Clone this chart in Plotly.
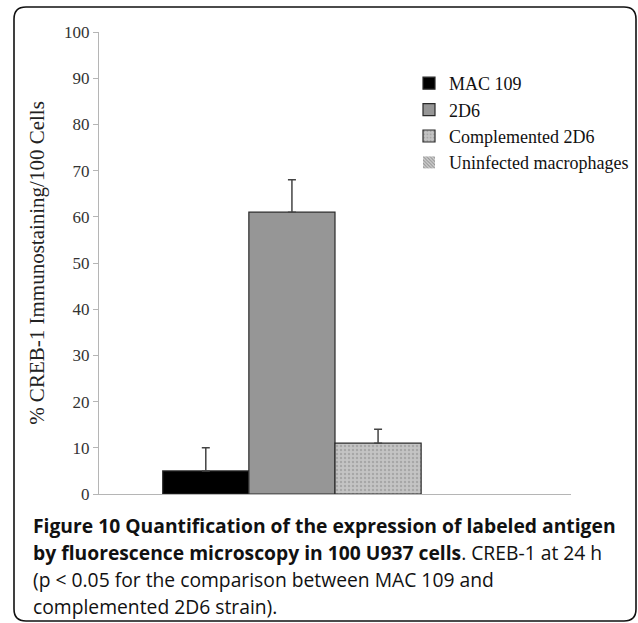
import plotly.graph_objects as go

# ---- data ----
series = ["MAC 109", "2D6", "Complemented 2D6", "Uninfected macrophages"]
values = [5, 61, 11, 0]
err_plus = [5, 7, 3, 0]
colors = ["#000000", "#969696", "#c4c4c4", "#d4d4d4"]
patterns = ["", "", ".", "\\"]
category = [""]
y_ticks = [0, 10, 20, 30, 40, 50, 60, 70, 80, 90, 100]

caption_lines = [
    "<b>Figure 10 Quantification of the expression of labeled antigen</b>",
    "<b>by fluorescence microscopy in 100 U937 cells</b>. CREB-1 at 24 h",
    "(p &lt; 0.05 for the comparison between MAC 109 and",
    "complemented 2D6 strain).",
]

# ---- layout geometry (pixels) ----
W, H = 638, 623
L, R, T, B = 99, 67, 32, 129
PW, PH = W - L - R, H - T - B


def px(x):
    return (x - L) / PW


def py(y):
    return (H - B - y) / PH


fig = go.Figure()
for name, v, e, c, p in zip(series, values, err_plus, colors, patterns):
    pat = dict(shape=p, fgcolor="#8a8a8a", size=4, solidity=0.3) if p == "." else \
        (dict(shape=p, fgcolor="#555555", size=3, solidity=0.45) if p else None)
    fig.add_trace(go.Bar(
        x=category, y=[v], name=name,
        marker=dict(color=c, line=dict(color="#2a2a2a", width=1.2 if v > 0 else 0),
                    pattern=pat),
        error_y=dict(type="data", array=[e], arrayminus=[0], symmetric=False,
                     color="#444444", thickness=1.5, width=4, visible=(e > 0)),
    ))

# rounded frame
x0, x1 = px(14), px(636)
y0, y1 = py(7), py(621)
rx, ry = 12 / PW, 12 / PH
path = (f"M {x0+rx},{y0} L {x1-rx},{y0} Q {x1},{y0} {x1},{y0-ry} "
        f"L {x1},{y1+ry} Q {x1},{y1} {x1-rx},{y1} L {x0+rx},{y1} "
        f"Q {x0},{y1} {x0},{y1+ry} L {x0},{y0-ry} Q {x0},{y0} {x0+rx},{y0} Z")

annotations = []
for i, line in enumerate(caption_lines):
    annotations.append(dict(
        text=line, xref="paper", yref="paper", x=px(31), y=py(525 + 27 * i),
        xanchor="left", yanchor="middle", showarrow=False, align="left",
        font=dict(family="Open Sans", size=19.3, color="#111111"),
    ))

fig.update_layout(
    width=W, height=H,
    margin=dict(l=L, r=R, t=T, b=B, autoexpand=False),
    paper_bgcolor="white", plot_bgcolor="white",
    barmode="group", bargap=0.27, bargroupgap=0,
    font=dict(family="Liberation Serif", color="#222222"),
    showlegend=True,
    legend=dict(x=px(409), y=py(65), xanchor="left", yanchor="top",
                bgcolor="rgba(0,0,0,0)", font=dict(family="Liberation Serif", size=18, color="#111111"),
                tracegroupgap=0, itemwidth=30),
    xaxis=dict(showline=True, linecolor="#b5b5b5", linewidth=1.2, showticklabels=False,
               ticks="", showgrid=False, zeroline=False),
    yaxis=dict(range=[0, 100], tickvals=y_ticks, showline=True, linecolor="#b5b5b5", linewidth=1.2,
               ticks="outside", ticklen=5, tickcolor="#b5b5b5", showgrid=False, zeroline=False,
               tickfont=dict(family="Liberation Serif", size=17, color="#333333"),
               title=dict(text="% CREB-1 Immunostaining/100 Cells", standoff=13,
                          font=dict(family="Liberation Serif", size=21, color="#222222")),
               automargin=False),
    shapes=[dict(type="path", path=path, xref="paper", yref="paper",
                 line=dict(color="#111111", width=1.6), fillcolor="rgba(0,0,0,0)", layer="below")],
    annotations=annotations,
)

fig.write_html("out.html", config={"displayModeBar": False},
               post_script="document.body.style.margin='0px';")
